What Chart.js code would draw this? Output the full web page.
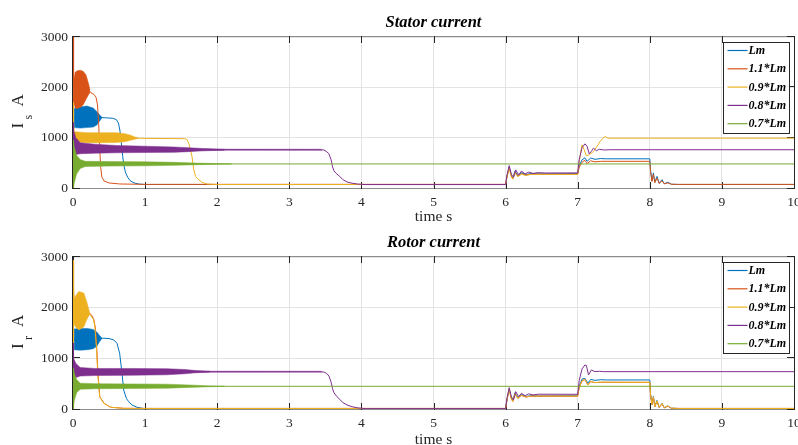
<!DOCTYPE html>
<html>
<head>
<meta charset="utf-8">
<script src="https://cdn.jsdelivr.net/npm/chart.js@4.4.1/dist/chart.umd.min.js"></script>
<style>
  html, body { margin: 0; padding: 0; background: #fff; }
  canvas { display: block; }
</style>
</head>
<body>
<canvas id="stator" width="798" height="222"></canvas>
<canvas id="rotor" width="798" height="223"></canvas>
<script>
// legend entries and MATLAB default line colours
const seriesLabels = ['Lm', '1.1*Lm', '0.9*Lm', '0.8*Lm', '0.7*Lm'];
const seriesColors = ['#0072BD', '#D95319', '#EDB120', '#7E2F8E', '#77AC30'];
const timeTicks = [0, 1, 2, 3, 4, 5, 6, 7, 8, 9, 10];
const currentTicks = [0, 1000, 2000, 3000];

// ---- stator current: [time s, current A] ----
const statorLm = [
  [0, 0], [0.004, 1350], [0.015, 1400], [0.38, 1400], [0.45, 1395], [0.55, 1385], [0.6, 1360],
  [0.63, 1290], [0.65, 1150], [0.67, 900], [0.69, 620], [0.71, 420], [0.73, 300], [0.76, 210],
  [0.79, 150], [0.82, 120], [0.86, 95], [0.92, 78], [1.0, 70],
  [6.0, 70], [6.02, 240], [6.05, 420], [6.08, 250], [6.1, 195], [6.13, 335], [6.17, 245],
  [6.22, 305], [6.28, 265], [6.35, 290], [6.45, 280], [7.0, 285], [7.02, 440], [7.06, 560],
  [7.1, 600], [7.13, 530], [7.18, 595], [7.24, 570], [7.32, 585], [7.4, 580], [8.0, 580],
  [8.01, 360], [8.03, 140], [8.05, 300], [8.07, 115], [8.1, 230], [8.13, 95], [8.17, 165],
  [8.2, 85], [8.25, 115], [8.3, 75], [8.4, 70], [10, 70]
];
const statorLm11 = [
  [0, 0], [0.004, 3000], [0.012, 2250], [0.02, 1950], [0.23, 1930], [0.25, 1890], [0.29, 1860],
  [0.32, 1800], [0.34, 1650], [0.355, 1300], [0.37, 800], [0.385, 400], [0.4, 220], [0.43, 140],
  [0.5, 100], [0.65, 80], [1.0, 72],
  [6.0, 72], [6.02, 230], [6.05, 400], [6.08, 235], [6.1, 185], [6.13, 315], [6.17, 235],
  [6.22, 285], [6.28, 255], [6.35, 275], [7.0, 275], [7.02, 410], [7.06, 510], [7.1, 550],
  [7.13, 485], [7.18, 540], [7.24, 520], [7.32, 530], [8.0, 530], [8.01, 330], [8.03, 130],
  [8.05, 270], [8.07, 105], [8.1, 200], [8.13, 90], [8.17, 145], [8.2, 82], [8.25, 100],
  [8.3, 74], [8.4, 72], [10, 72]
];
const statorLm09 = [
  [0, 0], [0.004, 1700], [0.01, 1300], [0.02, 1010], [0.9, 990], [1.0, 985], [1.55, 980],
  [1.58, 965], [1.605, 890], [1.63, 760], [1.65, 626], [1.675, 362], [1.7, 230], [1.745, 164],
  [1.79, 111], [1.86, 79], [2.0, 70],
  [6.0, 70], [6.02, 220], [6.05, 390], [6.08, 225], [6.1, 175], [6.13, 300], [6.17, 225],
  [6.22, 275], [6.28, 250], [6.35, 270], [7.0, 270], [7.02, 520], [7.06, 857], [7.09, 760],
  [7.12, 640], [7.16, 660], [7.22, 725], [7.27, 830], [7.31, 923], [7.35, 990], [7.38, 1022],
  [7.42, 990], [10, 990]
];
const statorLm08 = [
  [0, 0], [0.004, 1300], [0.01, 1050], [0.03, 850], [0.1, 780], [0.4, 765], [3.4, 760],
  [3.48, 755], [3.52, 720], [3.55, 680], [3.58, 560], [3.6, 420], [3.62, 340], [3.65, 290],
  [3.7, 230], [3.74, 170], [3.8, 120], [3.87, 95], [3.95, 78], [4.05, 68],
  [6.0, 68], [6.02, 260], [6.05, 445], [6.08, 270], [6.11, 215], [6.14, 360], [6.18, 260],
  [6.22, 335], [6.27, 280], [6.32, 315], [6.38, 290], [6.45, 305], [6.55, 298], [7.0, 300],
  [7.02, 560], [7.06, 800], [7.1, 877], [7.13, 830], [7.16, 680], [7.19, 730], [7.22, 792],
  [7.26, 740], [7.3, 770], [7.36, 755], [7.45, 760], [10, 760]
];
const statorLm07 = [[0, 0], [0.004, 950], [0.01, 600], [0.03, 470], [0.1, 478], [10, 478]];

// oscillation envelopes: [time s, lower A, upper A]
const statorLmBand = [[0.015, 1200, 1580], [0.1, 1190, 1610], [0.19, 1200, 1630], [0.28, 1210, 1590], [0.33, 1250, 1520], [0.37, 1330, 1450], [0.4, 1390, 1410]];
const statorLm11Band = [[0.012, 1700, 2150], [0.03, 1590, 2300], [0.06, 1580, 2330], [0.1, 1600, 2340], [0.14, 1650, 2320], [0.18, 1760, 2250], [0.21, 1840, 2100], [0.235, 1895, 1960]];
const statorLm09Band = [[0.015, 920, 1120], [0.2, 900, 1100], [0.4, 900, 1100], [0.6, 905, 1100], [0.72, 920, 1080], [0.8, 950, 1050], [0.86, 970, 1012], [0.9, 985, 995]];
const statorLm08Band = [[0.008, 650, 1150], [0.04, 665, 1000], [0.1, 680, 900], [0.3, 690, 870], [0.6, 700, 845], [1.0, 705, 830], [1.4, 708, 815], [1.6, 722, 800], [1.8, 738, 785], [2.1, 752, 768]];
const statorLm08Tail = [[1.6, 744, 777], [3.45, 746, 774]];
const statorLm07Band = [[0.004, 20, 950], [0.02, 110, 800], [0.05, 280, 650], [0.1, 385, 565], [0.17, 428, 530], [0.5, 435, 525], [1.0, 440, 520], [1.4, 450, 510], [1.7, 462, 495], [2.0, 472, 485], [2.2, 476, 480]];

// ---- rotor current: [time s, current A] ----
const rotorLm = [
  [0, 0], [0.004, 1300], [0.015, 1380], [0.38, 1390], [0.42, 1397], [0.5, 1390], [0.564, 1364],
  [0.61, 1298], [0.647, 1100], [0.68, 705], [0.703, 375], [0.74, 211], [0.772, 145], [0.82, 79],
  [0.888, 33], [0.98, 10],
  [6.0, 10], [6.02, 190], [6.05, 400], [6.08, 215], [6.1, 160], [6.13, 320], [6.17, 225],
  [6.22, 285], [6.28, 245], [6.35, 265], [6.45, 258], [7.0, 262], [7.02, 450], [7.06, 590],
  [7.1, 606], [7.14, 508], [7.18, 585], [7.24, 565], [7.32, 578], [7.4, 573], [8.0, 573],
  [8.01, 300], [8.03, 90], [8.05, 250], [8.07, 50], [8.1, 170], [8.13, 35], [8.17, 110],
  [8.2, 25], [8.25, 60], [8.3, 15], [8.4, 10], [10, 10]
];
const rotorLm11 = [
  [0, 0], [0.004, 2900], [0.012, 2300], [0.02, 1950], [0.235, 1880], [0.26, 1850], [0.29, 1760],
  [0.31, 1600], [0.328, 1250], [0.346, 700], [0.372, 240], [0.43, 115], [0.52, 35], [0.7, 14],
  [1.0, 12],
  [6.0, 12], [6.02, 185], [6.05, 385], [6.08, 200], [6.1, 150], [6.13, 300], [6.17, 210],
  [6.22, 268], [6.28, 235], [6.35, 252], [7.0, 252], [7.02, 420], [7.06, 555], [7.1, 580],
  [7.14, 475], [7.18, 540], [7.24, 520], [7.32, 527], [8.0, 525], [8.01, 280], [8.03, 85],
  [8.05, 235], [8.07, 45], [8.1, 155], [8.13, 30], [8.17, 100], [8.2, 22], [8.25, 55],
  [8.3, 14], [8.4, 12], [10, 12]
];
const rotorLm09 = [
  [0, 0], [0.004, 2940], [0.01, 2400], [0.02, 1950], [0.23, 1870], [0.24, 1858], [0.287, 1759],
  [0.305, 1600], [0.324, 1230], [0.343, 700], [0.37, 240], [0.425, 115], [0.518, 35], [0.7, 12],
  [1.0, 10],
  [6.0, 10], [6.02, 190], [6.05, 390], [6.08, 205], [6.1, 150], [6.13, 305], [6.17, 212],
  [6.22, 272], [6.28, 238], [6.35, 256], [7.0, 255], [7.02, 420], [7.06, 560], [7.1, 586],
  [7.14, 474], [7.18, 545], [7.24, 522], [7.32, 530], [8.0, 527], [8.01, 285], [8.03, 90],
  [8.05, 240], [8.07, 50], [8.1, 160], [8.13, 35], [8.17, 110], [8.2, 25], [8.25, 60],
  [8.3, 15], [8.4, 10], [10, 10]
];
const rotorLm08 = [
  [0, 0], [0.004, 1300], [0.01, 950], [0.03, 800], [0.1, 745], [0.5, 737], [3.4, 735],
  [3.48, 730], [3.52, 700], [3.55, 650], [3.58, 530], [3.6, 400], [3.62, 320], [3.65, 260],
  [3.7, 190], [3.74, 130], [3.8, 80], [3.87, 45], [3.95, 22], [4.05, 8],
  [6.0, 8], [6.02, 220], [6.05, 421], [6.08, 240], [6.11, 180], [6.14, 343], [6.18, 245],
  [6.22, 310], [6.27, 262], [6.32, 300], [6.38, 278], [6.45, 292], [7.0, 290], [7.02, 560],
  [7.06, 790], [7.1, 870], [7.12, 860], [7.15, 672], [7.19, 771], [7.24, 737], [7.3, 745],
  [7.36, 737], [10, 737]
];
const rotorLm07 = [[0, 0], [0.004, 800], [0.01, 500], [0.03, 440], [0.1, 448], [10, 448]];

const rotorLmBand = [[0.015, 1170, 1580], [0.1, 1160, 1590], [0.2, 1170, 1590], [0.28, 1190, 1570], [0.33, 1240, 1520], [0.37, 1330, 1450], [0.4, 1388, 1405]];
const rotorLm09Band = [[0.01, 1700, 2100], [0.03, 1630, 2220], [0.08, 1560, 2320], [0.15, 1620, 2290], [0.19, 1760, 2120], [0.22, 1840, 1960], [0.235, 1868, 1885]];
const rotorLm08Band = [[0.008, 600, 1000], [0.04, 620, 900], [0.1, 650, 820], [0.3, 660, 800], [0.8, 665, 800], [1.3, 675, 795], [1.55, 695, 780], [1.7, 715, 760], [1.9, 728, 745]];
const rotorLm08Tail = [[1.6, 722, 750], [3.45, 723, 749]];
const rotorLm07Band = [[0.004, 30, 800], [0.02, 180, 700], [0.05, 320, 580], [0.1, 390, 510], [0.3, 400, 500], [0.8, 405, 495], [1.3, 410, 490], [1.6, 425, 475], [1.9, 440, 456], [2.1, 445, 451]];

const serif = '"Liberation Serif", "Times New Roman", serif';
const toXY = (pts) => pts.map(([x, y]) => ({ x, y }));

function fade(hex, a) {
  const n = parseInt(hex.slice(1), 16);
  return `rgba(${n >> 16},${(n >> 8) & 255},${n & 255},${a})`;
}

// upper envelope filled down to the lower one
function envelope(rows, color, order, alpha) {
  const fillColor = alpha ? fade(color, alpha) : color;
  return [
    { data: rows.map(r => ({ x: r[0], y: r[2] })), borderColor: fillColor, backgroundColor: fillColor, borderWidth: 0.5, fill: '+1', order },
    { data: rows.map(r => ({ x: r[0], y: r[1] })), borderColor: fillColor, borderWidth: 0.5, fill: false, order },
  ];
}

function buildDatasets(lines, bands, tails) {
  const sets = [];
  lines.forEach((pts, i) => {
    const color = seriesColors[i];
    const order = lines.length - i;
    if (tails[i]) sets.push(...envelope(tails[i], color, order, 0.5));
    if (bands[i]) sets.push(...envelope(bands[i], color, order));
    sets.push({ label: seriesLabels[i], data: toXY(pts), borderColor: color, borderWidth: 1, fill: false, order });
  });
  return sets;
}

// axes box, inward ticks, titles, y label and boxed legend
const frame = {
  id: 'frame',
  beforeDatasetsDraw(chart) {
    const { ctx, chartArea: a, scales: { x, y } } = chart;
    ctx.save();
    ctx.lineWidth = 1;
    ctx.strokeStyle = '#8c8c8c';
    ctx.beginPath();
    ctx.moveTo(a.left, a.top - 0.5); ctx.lineTo(a.right, a.top - 0.5);
    ctx.moveTo(a.left, a.bottom + 0.5); ctx.lineTo(a.right, a.bottom + 0.5);
    ctx.stroke();
    ctx.strokeStyle = '#262626';
    ctx.beginPath();
    ctx.moveTo(a.left - 0.5, a.top - 1); ctx.lineTo(a.left - 0.5, a.bottom + 1);
    ctx.moveTo(a.right + 0.5, a.top - 1); ctx.lineTo(a.right + 0.5, a.bottom + 1);
    timeTicks.forEach(v => {
      const px = Math.round(x.getPixelForValue(v)) + 0.5;
      ctx.moveTo(px, a.top - 1); ctx.lineTo(px, a.top + 6);
      ctx.moveTo(px, a.bottom + 1); ctx.lineTo(px, a.bottom - 6);
    });
    currentTicks.forEach(v => {
      const py = Math.round(y.getPixelForValue(v)) + (v === 0 ? 0.5 : -0.5);
      ctx.moveTo(a.left, py); ctx.lineTo(a.left + 7, py);
      ctx.moveTo(a.right, py); ctx.lineTo(a.right - 7, py);
    });
    ctx.stroke();
    ctx.restore();
  },
  afterDraw(chart, args, o) {
    const { ctx, chartArea: a } = chart;
    const cx = (a.left + a.right) / 2;
    const midY = (a.top + a.bottom) / 2;
    ctx.save();
    ctx.fillStyle = '#000';
    ctx.textAlign = 'center';
    ctx.textBaseline = 'alphabetic';
    ctx.font = `bold italic 16.5px ${serif}`;
    ctx.fillText(o.title, cx, a.top - 10.5);
    ctx.fillStyle = '#262626';
    ctx.font = `15.5px ${serif}`;
    ctx.fillText('time s', cx, chart.height - 1);

    // I with subscript, then unit
    ctx.save();
    ctx.translate(22.5, midY);
    ctx.rotate(-Math.PI / 2);
    ctx.textAlign = 'left';
    ctx.font = `17px ${serif}`;
    ctx.fillText('I', -16, 0);
    ctx.font = `12px ${serif}`;
    ctx.fillText(o.sub, -7, 9);
    ctx.font = `17px ${serif}`;
    ctx.fillText('A', 6, 0);
    ctx.restore();

    const lx = Math.round(a.right - 71) + 0.5;
    const ly = Math.round(a.top + 5) + 0.5;
    ctx.fillStyle = '#fff';
    ctx.fillRect(lx, ly, 66, 91);
    ctx.strokeStyle = '#262626';
    ctx.lineWidth = 1;
    ctx.strokeRect(lx, ly, 66, 91);
    ctx.textAlign = 'left';
    ctx.textBaseline = 'middle';
    ctx.font = `bold italic 12px ${serif}`;
    seriesLabels.forEach((lab, i) => {
      const yy = ly + 8 + i * 18.3;
      ctx.strokeStyle = seriesColors[i];
      ctx.lineWidth = 1.2;
      ctx.beginPath();
      ctx.moveTo(lx + 4, yy); ctx.lineTo(lx + 24, yy);
      ctx.stroke();
      ctx.fillStyle = '#000';
      ctx.fillText(lab, lx + 25, yy + 0.5);
    });
    ctx.restore();
  }
};

function makeChart(id, datasets, frameOpts, top, axisHeight) {
  const tickFont = { family: serif, size: 13.5 };
  return new Chart(document.getElementById(id), {
    type: 'line',
    data: { datasets },
    options: {
      responsive: false,
      animation: false,
      devicePixelRatio: 1,
      events: [],
      layout: { padding: { top, right: 4, left: 0, bottom: 0 } },
      elements: { point: { radius: 0 }, line: { tension: 0 } },
      plugins: { legend: { display: false }, tooltip: { enabled: false }, frame: frameOpts },
      scales: {
        x: {
          type: 'linear', min: 0, max: 10,
          afterBuildTicks: s => { s.ticks = timeTicks.map(v => ({ value: v })); },
          afterFit: s => { s.height = axisHeight; s.paddingLeft = 0; s.paddingRight = 0; },
          ticks: { font: tickFont, color: '#262626', padding: 6, maxRotation: 0, autoSkip: false, callback: v => String(v) },
          grid: { color: '#e3e3e3', drawTicks: false },
          border: { display: false },
        },
        y: {
          type: 'linear', min: 0, max: 3000,
          afterBuildTicks: s => { s.ticks = currentTicks.map(v => ({ value: v })); },
          afterFit: s => { s.width = 73; s.paddingTop = 0; s.paddingBottom = 0; },
          ticks: { font: tickFont, color: '#262626', padding: 5, callback: v => String(v) },
          grid: { color: '#e3e3e3', drawTicks: false },
          border: { display: false },
        },
      },
    },
    plugins: [frame],
  });
}

makeChart('stator',
  buildDatasets(
    [statorLm, statorLm11, statorLm09, statorLm08, statorLm07],
    [statorLmBand, statorLm11Band, statorLm09Band, statorLm08Band, statorLm07Band],
    [null, null, null, statorLm08Tail, null]),
  { title: 'Stator current', sub: 's' }, 37, 34);

makeChart('rotor',
  buildDatasets(
    [rotorLm, rotorLm11, rotorLm09, rotorLm08, rotorLm07],
    [rotorLmBand, null, rotorLm09Band, rotorLm08Band, rotorLm07Band],
    [null, null, null, rotorLm08Tail, null]),
  { title: 'Rotor current', sub: 'r' }, 35, 36);
</script>
</body>
</html>
